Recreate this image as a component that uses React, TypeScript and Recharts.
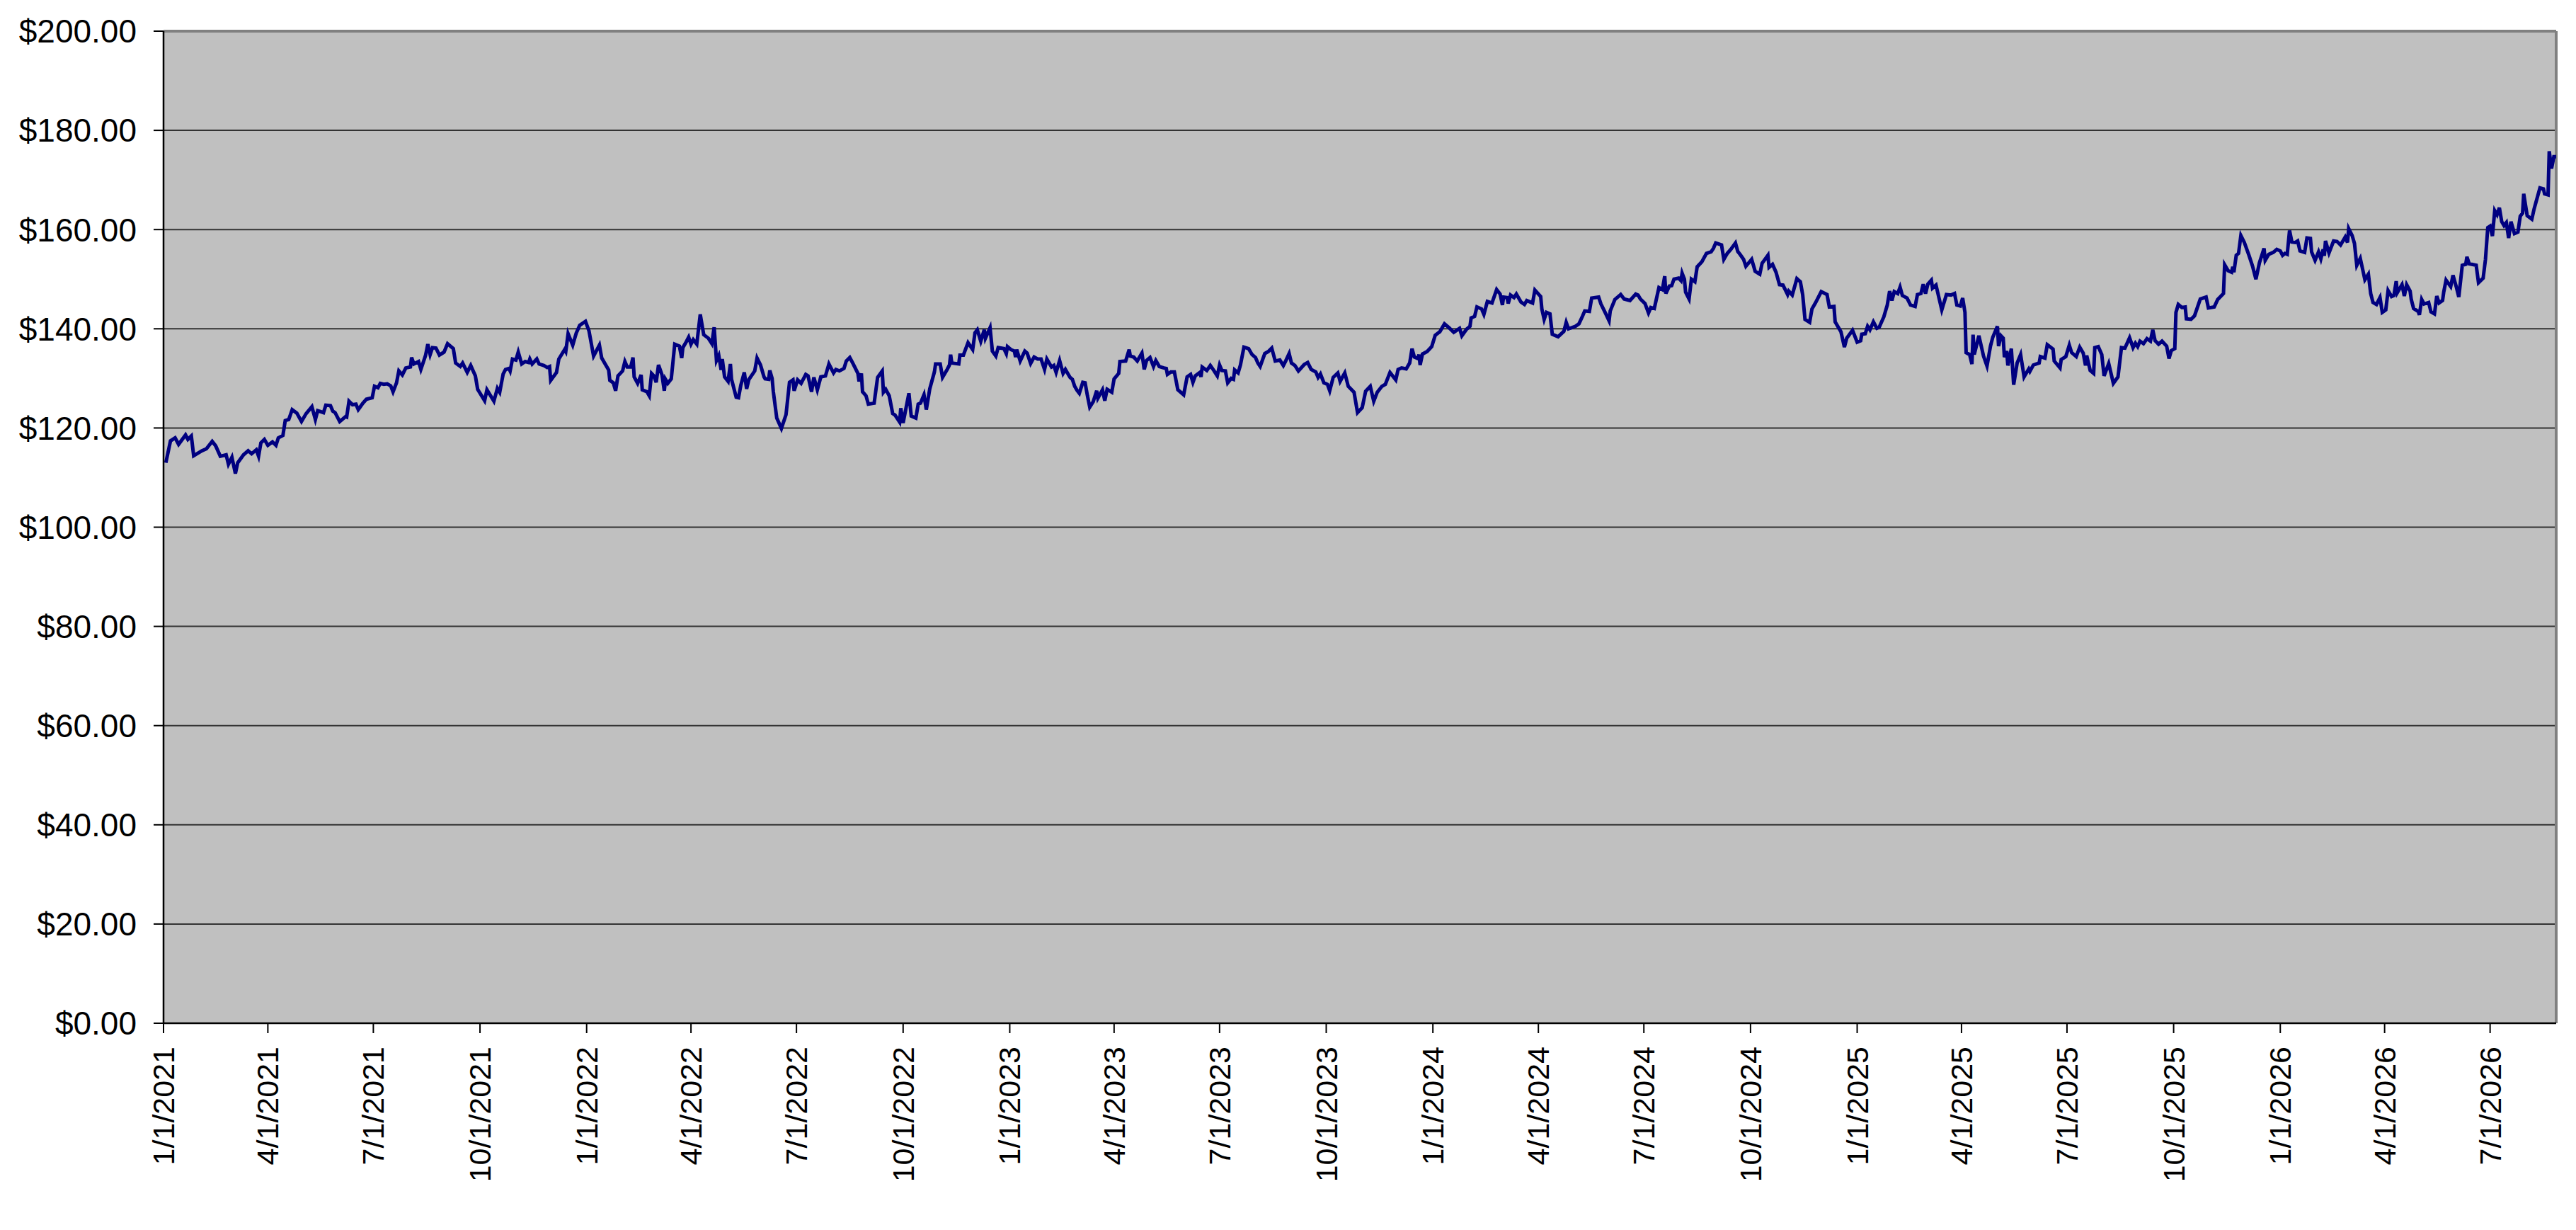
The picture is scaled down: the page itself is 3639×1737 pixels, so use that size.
import React from 'react';
import { LineChart, Line, XAxis, YAxis, CartesianGrid, ReferenceLine } from 'recharts';

// x = days since 1/1/2021, y = closing price
const quotes2021: [number, number][] = [
  [2, 113.0], [6, 117.4], [10, 118.0], [13, 116.7], [19, 118.6], [21, 117.7], [24, 118.4], [26, 114.4], [33, 115.4], [37, 115.8],
  [42, 117.3], [45, 116.4], [49, 114.3], [54, 114.6], [56, 112.7], [59, 114.1], [62, 110.8], [64, 113.0], [69, 114.6], [73, 115.4],
  [76, 114.8], [80, 115.6], [82, 114.3], [84, 117.0], [87, 117.7], [90, 116.5], [94, 117.2], [97, 116.5], [99, 118.0], [103, 118.5],
  [105, 121.5], [108, 121.7], [111, 123.7], [115, 123.0], [119, 121.3], [123, 122.9], [128, 124.3], [131, 121.7], [133, 123.5], [138, 123.1],
  [140, 124.6], [144, 124.5], [146, 123.4], [148, 123.1], [152, 121.3], [157, 122.3], [158, 122.2], [160, 125.4], [163, 124.7], [166, 124.8],
  [168, 123.7], [172, 125.0], [175, 125.8], [180, 126.1], [182, 128.4], [185, 128.1], [187, 129.0], [190, 128.8], [193, 128.9], [196, 128.5],
  [198, 127.3], [201, 129.1], [203, 131.5], [206, 130.7], [209, 132.1], [213, 132.3], [214, 134.2], [216, 132.9], [220, 133.4], [222, 131.8],
  [226, 134.6], [228, 136.9], [230, 134.8], [232, 136.2], [235, 136.1], [238, 134.7], [242, 135.3], [245, 137.0], [250, 136.0], [252, 133.1],
  [256, 132.4], [258, 133.1], [262, 131.2], [265, 132.6], [269, 130.5], [271, 127.8], [272, 127.4], [277, 125.5], [279, 127.7], [285, 125.4],
  [288, 128.0], [290, 127.2], [293, 130.9], [295, 131.8], [298, 132.0], [299, 131.5], [301, 133.9], [304, 133.7], [306, 135.3], [309, 132.9],
  [312, 133.4], [315, 133.2], [316, 133.9], [318, 132.9], [322, 133.9], [324, 132.9], [328, 132.6], [331, 132.2], [333, 132.4], [334, 129.6],
  [339, 131.2], [341, 133.9], [346, 135.8], [347, 135.4], [349, 139.0], [353, 136.7], [356, 139.1], [359, 140.7], [364, 141.5],
];

const quotes2022: [number, number][] = [
  [367, 139.6], [371, 134.5], [376, 136.7], [378, 134.1], [384, 131.7], [385, 129.6], [388, 129.1], [390, 127.5], [392, 130.5], [396, 131.5],
  [398, 133.4], [400, 132.3], [403, 132.3], [405, 134.2], [406, 130.3], [409, 129.0], [412, 130.7], [413, 127.7], [417, 127.3], [419, 126.5],
  [421, 131.0], [423, 130.5], [425, 129.2], [427, 132.7], [430, 130.7], [432, 127.5], [433, 129.8], [435, 129.0], [438, 129.9], [441, 136.9],
  [445, 136.5], [447, 134.1], [448, 136.2], [451, 137.4], [453, 138.3], [455, 136.9], [457, 137.8], [460, 136.9], [463, 142.9], [466, 138.8],
  [470, 138.1], [473, 137.0], [475, 140.3], [477, 133.6], [479, 134.6], [481, 131.7], [482, 133.9], [484, 130.3], [487, 129.4], [489, 132.9],
  [490, 129.8], [494, 126.2], [496, 126.1], [498, 128.6], [501, 131.2], [503, 127.9], [505, 129.8], [510, 131.5], [512, 134.1], [515, 132.7],
  [518, 130.3], [519, 129.9], [522, 129.8], [523, 131.6], [525, 130.0], [526, 127.4], [529, 122.0], [533, 119.9], [537, 122.7], [540, 129.2],
  [543, 129.7], [544, 127.5], [547, 129.7], [550, 129.0], [554, 130.8], [556, 130.5], [559, 127.3], [561, 130.2], [564, 127.7], [567, 130.3],
  [571, 130.5], [574, 132.9], [578, 131.1], [580, 131.8], [583, 131.5], [587, 132.0], [589, 133.5], [592, 134.2], [595, 132.9], [599, 131.0],
  [600, 129.4], [602, 131.0], [603, 127.3], [606, 126.5], [608, 124.8], [613, 125.0], [616, 130.2], [620, 131.5], [621, 127.2], [623, 127.8],
  [626, 126.5], [629, 122.9], [631, 122.6], [635, 121.2], [636, 124.0], [638, 121.0], [640, 123.4], [643, 127.0], [645, 122.4], [649, 122.0],
  [651, 124.8], [653, 125.0], [656, 126.7], [658, 123.7], [661, 127.9], [665, 131.3], [666, 132.9], [670, 132.9], [672, 130.2], [676, 131.8],
  [678, 132.7], [679, 134.8], [680, 133.1], [686, 132.9], [687, 134.7], [690, 134.7], [694, 137.2], [698, 135.8], [700, 139.2], [702, 139.8],
  [705, 137.5], [708, 139.8], [709, 138.1], [713, 140.2], [715, 135.5], [718, 134.5], [720, 136.2], [725, 136.0], [727, 135.0], [728, 136.4],
];

const quotes2023: [number, number][] = [
  [731, 135.8], [734, 135.5], [735, 134.3], [736, 135.8], [739, 133.5], [743, 135.5], [745, 135.1], [748, 133.0], [751, 134.3], [754, 133.9],
  [757, 133.9], [760, 131.8], [762, 133.9], [766, 132.3], [768, 132.6], [770, 131.2], [773, 133.6], [776, 131.0], [778, 131.8], [782, 130.2],
  [784, 129.8], [786, 128.4], [788, 127.6], [790, 127.0], [793, 129.2], [795, 129.1], [797, 126.5], [799, 124.2], [802, 125.3], [805, 127.5],
  [806, 126.0], [810, 127.7], [812, 125.5], [814, 127.8], [818, 127.2], [820, 129.9], [824, 131.0], [825, 133.4], [830, 133.5], [833, 135.8],
  [834, 134.5], [837, 134.3], [840, 133.5], [844, 135.1], [846, 131.8], [848, 133.6], [851, 134.2], [854, 132.4], [856, 133.6], [859, 132.4],
  [863, 132.1], [865, 132.0], [866, 130.8], [869, 131.3], [872, 131.3], [875, 127.7], [880, 126.7], [883, 130.3], [886, 130.8], [888, 129.2],
  [890, 130.5], [894, 131.2], [895, 130.3], [896, 132.3], [900, 131.6], [903, 132.6], [906, 131.6], [909, 130.5], [911, 132.7], [913, 131.6],
  [916, 131.5], [918, 129.1], [921, 130.0], [923, 129.8], [924, 131.7], [927, 131.1], [929, 132.7], [932, 136.3], [936, 136.0], [939, 134.8],
  [942, 134.2], [944, 133.1], [946, 132.4], [950, 135.0], [953, 135.4], [956, 136.1], [959, 133.5], [963, 133.7], [966, 132.6], [968, 133.5],
  [971, 135.0], [973, 133.1], [976, 132.6], [979, 131.5], [984, 132.8], [987, 133.2], [990, 131.8], [994, 131.3], [996, 130.2], [998, 130.9],
  [1001, 129.1], [1004, 128.8], [1006, 127.5], [1009, 130.2], [1013, 131.1], [1015, 129.4], [1019, 131.1], [1022, 128.4], [1027, 127.2], [1030, 123.1],
  [1034, 124.1], [1037, 127.4], [1041, 128.4], [1044, 125.4], [1047, 127.2], [1051, 128.4], [1054, 128.8], [1058, 131.2], [1063, 129.7], [1065, 131.8],
  [1068, 132.1], [1072, 131.9], [1075, 133.1], [1077, 136.0], [1079, 134.3], [1082, 134.0], [1083, 134.8], [1084, 132.7], [1086, 134.9], [1090, 135.4],
  [1094, 136.4],
];

const quotes2024: [number, number][] = [
  [1097, 138.7], [1101, 139.4], [1105, 141.0], [1109, 140.2], [1113, 139.3], [1118, 140.1], [1120, 138.6], [1124, 139.9], [1127, 140.5], [1128, 142.2],
  [1131, 142.5], [1133, 144.4], [1137, 144.0], [1139, 142.9], [1142, 145.5], [1146, 145.2], [1150, 147.9], [1153, 147.0], [1155, 144.8], [1156, 146.4],
  [1159, 146.3], [1160, 145.1], [1162, 146.8], [1165, 146.3], [1167, 147.0], [1171, 145.4], [1174, 144.9], [1176, 145.7], [1181, 145.2], [1183, 147.8],
  [1188, 146.5], [1189, 144.0], [1191, 141.9], [1193, 143.3], [1196, 143.0], [1198, 138.9], [1203, 138.4], [1208, 139.5], [1210, 141.3], [1212, 140.0],
  [1218, 140.5], [1221, 141.0], [1224, 142.5], [1226, 143.6], [1230, 143.5], [1232, 146.2], [1235, 146.3], [1238, 146.4], [1240, 145.0], [1244, 143.1],
  [1247, 141.6], [1248, 143.6], [1252, 145.9], [1257, 146.9], [1260, 146.0], [1265, 145.7], [1270, 147.0], [1272, 146.8], [1274, 146.0], [1278, 145.1],
  [1281, 143.2], [1283, 144.3], [1286, 144.1], [1290, 148.3], [1293, 147.9], [1295, 150.6], [1296, 147.1], [1299, 148.6], [1301, 148.7], [1303, 150.0],
  [1307, 150.2], [1309, 149.7], [1310, 151.2], [1312, 150.0], [1313, 147.4], [1316, 146.0], [1318, 150.0], [1321, 149.5], [1323, 152.5], [1327, 153.5],
  [1331, 155.2], [1335, 155.5], [1337, 156.2], [1339, 157.3], [1344, 156.9], [1346, 154.0], [1349, 155.2], [1352, 156.0], [1356, 157.3], [1358, 155.6],
  [1360, 155.0], [1363, 154.0], [1365, 152.6], [1370, 154.0], [1373, 151.6], [1377, 151.0], [1379, 153.2], [1384, 154.8], [1385, 152.4], [1388, 153.0],
  [1391, 151.4], [1394, 148.9], [1397, 148.8], [1401, 146.9], [1402, 147.6], [1405, 146.8], [1409, 150.1], [1412, 149.5], [1414, 146.9], [1416, 141.9],
  [1420, 141.3], [1422, 144.0], [1425, 145.2], [1430, 147.5], [1435, 146.9], [1437, 144.4], [1441, 144.5], [1442, 141.4], [1447, 139.4], [1450, 136.3],
  [1452, 138.1], [1457, 139.7],
];

const quotes2025: [number, number][] = [
  [1461, 137.3], [1464, 137.6], [1465, 138.9], [1468, 139.0], [1470, 140.5], [1472, 139.8], [1475, 141.4], [1478, 140.1], [1480, 140.3], [1484, 142.4],
  [1487, 144.8], [1489, 147.6], [1491, 145.7], [1493, 147.5], [1496, 147.1], [1498, 148.4], [1500, 146.7], [1504, 146.2], [1507, 144.8], [1511, 144.5],
  [1513, 146.9], [1516, 147.1], [1518, 149.0], [1520, 147.1], [1522, 149.0], [1525, 149.8], [1526, 148.2], [1529, 148.8], [1534, 143.8], [1538, 146.9],
  [1542, 146.8], [1545, 147.1], [1547, 144.8], [1550, 144.6], [1552, 146.2], [1554, 143.3], [1555, 135.2], [1558, 134.8], [1560, 132.9], [1561, 138.8],
  [1562, 134.8], [1566, 138.6], [1570, 134.5], [1573, 132.5], [1576, 136.5], [1578, 138.3], [1582, 140.5], [1583, 136.5], [1585, 138.6], [1587, 138.1],
  [1588, 134.3], [1590, 135.5], [1591, 132.6], [1594, 136.0], [1596, 128.7], [1599, 133.1], [1602, 134.8], [1605, 130.3], [1609, 131.9], [1610, 131.4],
  [1613, 132.7], [1618, 133.1], [1619, 134.4], [1623, 134.1], [1625, 136.8], [1630, 135.9], [1631, 133.5], [1636, 132.1], [1637, 133.8], [1641, 134.4],
  [1644, 136.7], [1646, 135.2], [1650, 134.4], [1653, 136.3], [1656, 135.1], [1658, 132.6], [1659, 134.6], [1662, 131.6], [1665, 131.0], [1666, 136.2],
  [1669, 136.4], [1672, 134.8], [1674, 130.5], [1678, 133.0], [1682, 129.0], [1686, 130.3], [1689, 136.2], [1692, 136.1], [1696, 138.2], [1699, 136.2],
  [1701, 137.1], [1703, 136.4], [1705, 137.5], [1708, 137.0], [1711, 138.0], [1714, 137.5], [1716, 139.8], [1718, 137.6], [1721, 136.9], [1724, 137.5],
  [1728, 136.5], [1730, 134.0], [1732, 135.6], [1735, 136.0], [1736, 143.3], [1738, 144.9], [1741, 144.3], [1744, 144.4], [1745, 142.0], [1749, 141.9],
  [1752, 142.6], [1757, 146.0], [1762, 146.4], [1764, 144.2], [1769, 144.4], [1772, 145.9], [1777, 147.1], [1778, 152.9], [1781, 151.7], [1784, 151.4],
  [1785, 152.5], [1786, 151.4], [1788, 154.8], [1790, 155.2], [1792, 158.8], [1795, 157.4], [1799, 154.8], [1802, 152.7], [1805, 150.0], [1808, 153.3],
  [1812, 156.2], [1813, 153.8], [1816, 155.0], [1820, 155.4], [1823, 156.0],
];

const quotes2026: [number, number][] = [
  [1826, 155.7], [1828, 154.8], [1830, 155.2], [1832, 155.0], [1834, 159.8], [1836, 157.5], [1839, 157.4], [1841, 157.7], [1843, 155.7], [1847, 155.4],
  [1849, 158.3], [1852, 158.2], [1853, 155.5], [1856, 153.8], [1859, 155.5], [1861, 154.1], [1863, 156.0], [1864, 154.7], [1865, 157.7], [1868, 155.3],
  [1872, 157.7], [1875, 157.6], [1878, 156.9], [1882, 158.5], [1884, 157.4], [1885, 160.2], [1888, 158.8], [1890, 157.2], [1892, 152.8], [1895, 154.2],
  [1899, 149.9], [1902, 151.0], [1904, 147.1], [1906, 145.3], [1909, 144.9], [1912, 146.3], [1914, 143.3], [1917, 143.8], [1919, 147.7], [1922, 146.5],
  [1924, 146.7], [1926, 149.6], [1927, 147.3], [1931, 148.9], [1933, 146.6], [1935, 148.9], [1938, 147.6], [1939, 145.9], [1941, 144.1], [1945, 143.5],
  [1946, 142.8], [1948, 145.9], [1950, 145.0], [1954, 145.3], [1956, 143.4], [1959, 143.0], [1961, 146.6], [1963, 145.2], [1966, 145.7], [1967, 147.4],
  [1969, 149.8], [1973, 148.5], [1975, 150.8], [1978, 148.3], [1980, 146.4], [1983, 152.8], [1986, 153.0], [1987, 154.5], [1989, 153.1], [1995, 152.8],
  [1997, 149.3], [2001, 150.2], [2003, 154.0], [2005, 160.4], [2007, 160.7], [2009, 158.7], [2011, 163.8], [2013, 163.0], [2015, 164.4], [2017, 161.6],
  [2019, 160.8], [2021, 161.4], [2023, 158.3], [2025, 161.6], [2028, 159.2], [2031, 159.5], [2033, 162.7], [2035, 163.3], [2036, 167.2], [2039, 162.8],
  [2043, 162.1], [2045, 164.2], [2050, 168.4], [2053, 168.2], [2054, 167.2], [2057, 167.0], [2058, 175.8], [2060, 172.3], [2062, 174.7], [2064, 174.7],
];

const dateTickLabels = [
  '1/1/2021', '4/1/2021', '7/1/2021', '10/1/2021',
  '1/1/2022', '4/1/2022', '7/1/2022', '10/1/2022',
  '1/1/2023', '4/1/2023', '7/1/2023', '10/1/2023',
  '1/1/2024', '4/1/2024', '7/1/2024', '10/1/2024',
  '1/1/2025', '4/1/2025', '7/1/2025', '10/1/2025',
  '1/1/2026', '4/1/2026', '7/1/2026',
];

const priceTicks = [0, 20, 40, 60, 80, 100, 120, 140, 160, 180, 200];

const LAST_DAY = 2064;
const FONT = '"Liberation Sans", Arial, sans-serif';

const dayOf = (label: string) => {
  const [m, d, y] = label.split('/').map(Number);
  return Math.round((Date.UTC(y, m - 1, d) - Date.UTC(2021, 0, 1)) / 86400000);
};

const dateTicks = dateTickLabels.map(dayOf);
const labelByDay: Record<number, string> = {};
dateTickLabels.forEach((l, i) => (labelByDay[dateTicks[i]] = l));

const data = [...quotes2021, ...quotes2022, ...quotes2023, ...quotes2024, ...quotes2025, ...quotes2026].map(
  ([day, price]) => ({ day, price })
);

const DateTick = (props: any) => {
  const { x, y, payload } = props;
  return (
    <text
      x={x}
      y={y}
      transform={`rotate(-90 ${x} ${y})`}
      textAnchor="end"
      dominantBaseline="central"
      fontSize={43}
      fontFamily={FONT}
      fill="#000"
    >
      {labelByDay[payload.value]}
    </text>
  );
};

export default function App() {
  return (
    <div style={{ position: 'absolute', left: 0, top: 0, width: 3639, height: 1737, background: '#fff' }}>
      <LineChart width={3639} height={1737} data={data} margin={{ top: 44, right: 28, bottom: 42, left: 31 }}>
        <CartesianGrid vertical={false} stroke="#333" strokeWidth={2} fill="#C0C0C0" fillOpacity={1} />
        <XAxis
          dataKey="day"
          type="number"
          domain={[0, LAST_DAY]}
          ticks={dateTicks}
          interval={0}
          allowDataOverflow
          height={250}
          tickSize={14}
          tickMargin={19}
          axisLine={{ stroke: '#000', strokeWidth: 2.5 }}
          tickLine={{ stroke: '#000', strokeWidth: 2 }}
          tick={<DateTick />}
        />
        <YAxis
          domain={[0, 200]}
          ticks={priceTicks}
          interval={0}
          width={200}
          tickSize={14}
          tickMargin={24}
          axisLine={{ stroke: '#000', strokeWidth: 2.5 }}
          tickLine={{ stroke: '#000', strokeWidth: 2 }}
          tick={{ fontSize: 46, fontFamily: FONT, fill: '#000' }}
          tickFormatter={(v: number) => `$${v.toFixed(2)}`}
        />
        <ReferenceLine y={200} stroke="#808080" strokeWidth={4} />
        <ReferenceLine x={LAST_DAY} stroke="#808080" strokeWidth={4} />
        <Line
          type="linear"
          dataKey="price"
          stroke="#000080"
          strokeWidth={5}
          dot={false}
          isAnimationActive={false}
        />
      </LineChart>
    </div>
  );
}
